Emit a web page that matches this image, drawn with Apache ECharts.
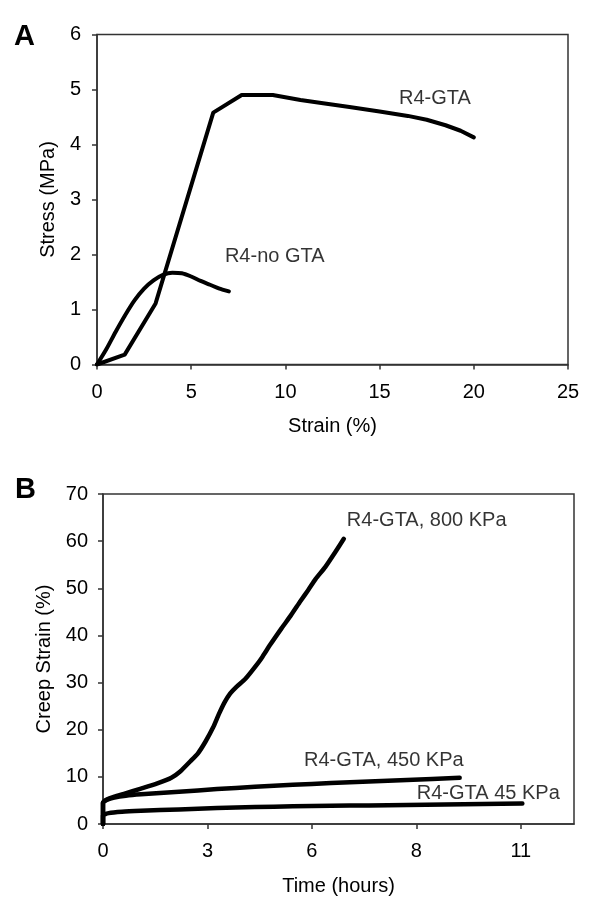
<!DOCTYPE html>
<html>
<head>
<meta charset="utf-8">
<script src="https://cdn.jsdelivr.net/npm/echarts@6/dist/echarts.min.js"></script>
<style>
html,body{margin:0;padding:0;background:#fff;}
#chart{width:600px;height:919px;}
</style>
</head>
<body>
<div id="chart"></div>
<script>
// ---- Panel A data: Stress (MPa) vs Strain (%) ----
var strainGTA = [0, 1.47, 3.11, 6.17, 7.68, 9.33, 10.8, 12.0, 13.4, 15.0, 16.5, 17.5, 18.5, 19.3, 20.0];
var stressGTA = [0, 0.18, 1.11, 4.58, 4.90, 4.90, 4.81, 4.75, 4.68, 4.60, 4.52, 4.45, 4.35, 4.25, 4.13];
var strainNoGTA = [0, 0.5, 1.0, 1.5, 2.0, 2.5, 3.0, 3.5, 4.0, 4.5, 5.0, 5.5, 6.0, 6.5, 7.0];
var stressNoGTA = [0, 0.28, 0.60, 0.90, 1.17, 1.38, 1.53, 1.63, 1.67, 1.66, 1.60, 1.52, 1.45, 1.38, 1.33];
var labelsA = ['R4-GTA', 'R4-no GTA'];
var labelAnchorsA = [[16.03, 4.83], [6.79, 1.96]];

// ---- Panel B data: Creep strain (%) vs Time (hours) ----
var time800 = [0, 0, 0.1, 0.3, 0.55, 1.0, 1.43, 1.8, 2.04, 2.3, 2.5, 2.7, 2.9, 3.05, 3.2, 3.35, 3.5, 3.75, 4.05, 4.2, 4.4, 4.7, 4.95, 5.2, 5.4, 5.6, 5.85, 6.1, 6.34];
var strain800 = [0, 4.5, 5.2, 5.8, 6.4, 7.5, 8.6, 9.8, 11.2, 13.3, 15.0, 17.5, 20.5, 23.3, 25.8, 27.7, 29.0, 30.8, 33.8, 35.5, 38.0, 41.5, 44.3, 47.3, 49.6, 52.0, 54.5, 57.5, 60.5];
var time450 = [0, 0, 0.1, 0.3, 0.6, 1, 2, 3, 4, 5, 6, 7, 8, 9.39];
var strain450 = [0, 4.5, 5.1, 5.6, 6.0, 6.3, 6.85, 7.4, 7.9, 8.3, 8.7, 9.0, 9.35, 9.8];
var time45 = [0, 0, 0.15, 0.5, 1, 2, 3, 4, 5, 6, 7, 8, 9, 10, 11.04];
var strain45 = [0, 1.8, 2.3, 2.6, 2.8, 3.1, 3.4, 3.6, 3.75, 3.85, 3.95, 4.05, 4.15, 4.25, 4.35];
var labelsB = ['R4-GTA, 800 KPa', 'R4-GTA, 450 KPa', 'R4-GTA 45 KPa'];
var labelAnchorsB = [[6.42, 64.3], [5.29, 13.4], [8.26, 6.5]];
var tickValuesB = [0, 2.75, 5.5, 8.25, 11];
var tickLabelsB = ['0', '3', '6', '8', '11'];

function zip(xs, ys) { return xs.map(function (x, i) { return [x, ys[i]]; }); }

var FONT = "'Liberation Sans', Arial, Helvetica, sans-serif";
var AXIS_COLOR = '#333';
var TEXT_COLOR = '#000';

function axisCfg(extra) {
  var base = {
    type: 'value',
    nameLocation: 'middle',
    nameTextStyle: { fontFamily: FONT, fontSize: 20, color: TEXT_COLOR },
    axisLine: { show: true, onZero: false, lineStyle: { color: AXIS_COLOR, width: 1.5 } },
    axisTick: { show: true, inside: false, length: 5, lineStyle: { color: AXIS_COLOR, width: 1.5 } },
    axisLabel: { fontFamily: FONT, fontSize: 20, color: TEXT_COLOR, margin: 18 },
    splitLine: { show: false }
  };
  return Object.assign(base, extra);
}

var chart = echarts.init(document.getElementById('chart'), null, { renderer: 'canvas' });

var lineStyleA = { color: '#000', width: 4, cap: 'round', join: 'round' };
var lineStyleB = { color: '#000', width: 4.5, cap: 'round', join: 'round' };
var annLabel = { show: true, position: [0, 0], align: 'left', verticalAlign: 'middle', fontFamily: FONT, fontSize: 20, color: TEXT_COLOR,
  formatter: function (p) { return p.data[2]; } };

var option = {
  animation: false,
  backgroundColor: '#fff',
  grid: [
    { left: 97, top: 34.5, width: 471, height: 330, show: true, borderColor: AXIS_COLOR, borderWidth: 1.5, backgroundColor: 'transparent' },
    { left: 103, top: 494, width: 471, height: 330, show: true, borderColor: AXIS_COLOR, borderWidth: 1.5, backgroundColor: 'transparent' }
  ],
  xAxis: [
    axisCfg({ gridIndex: 0, min: 0, max: 25, interval: 5, name: 'Strain (%)', nameGap: 52 }),
    axisCfg({ gridIndex: 1, min: 0, max: 12.4, name: 'Time (hours)', nameGap: 52,
      axisTick: { show: true, inside: false, length: 5, customValues: tickValuesB, lineStyle: { color: AXIS_COLOR, width: 1.5 } },
      axisLabel: { fontFamily: FONT, fontSize: 20, color: TEXT_COLOR, margin: 17, customValues: tickValuesB,
        formatter: function (v) { var i = tickValuesB.indexOf(v); return i >= 0 ? tickLabelsB[i] : ''; } } })
  ],
  yAxis: [
    axisCfg({ gridIndex: 0, min: 0, max: 6, interval: 1, name: 'Stress (MPa)', nameGap: 37,
      axisLabel: { fontFamily: FONT, fontSize: 20, color: TEXT_COLOR, margin: 16 } }),
    axisCfg({ gridIndex: 1, min: 0, max: 70, interval: 10, name: 'Creep Strain (%)', nameGap: 46,
      axisLabel: { fontFamily: FONT, fontSize: 20, color: TEXT_COLOR, margin: 15 } })
  ],
  graphic: [
    { type: 'text', left: 14, top: 22, style: { text: 'A', fontFamily: FONT, fontSize: 29, fontWeight: 'bold', fill: '#000' } },
    { type: 'text', left: 15, top: 475, style: { text: 'B', fontFamily: FONT, fontSize: 29, fontWeight: 'bold', fill: '#000' } }
  ],
  series: [
    { type: 'line', xAxisIndex: 0, yAxisIndex: 0, data: zip(strainGTA, stressGTA), showSymbol: false, lineStyle: lineStyleA },
    { type: 'line', xAxisIndex: 0, yAxisIndex: 0, data: zip(strainNoGTA, stressNoGTA), smooth: 0.3, showSymbol: false, lineStyle: lineStyleA },
    { type: 'line', xAxisIndex: 1, yAxisIndex: 1, data: zip(time800, strain800), smooth: 0.2, showSymbol: false, lineStyle: lineStyleB },
    { type: 'line', xAxisIndex: 1, yAxisIndex: 1, data: zip(time450, strain450), smooth: 0.2, showSymbol: false, lineStyle: lineStyleB },
    { type: 'line', xAxisIndex: 1, yAxisIndex: 1, data: zip(time45, strain45), smooth: 0.2, showSymbol: false, lineStyle: lineStyleB },
    { type: 'scatter', xAxisIndex: 0, yAxisIndex: 0, symbolSize: 0, silent: true,
      data: labelAnchorsA.map(function (p, i) { return [p[0], p[1], labelsA[i]]; }), label: annLabel },
    { type: 'scatter', xAxisIndex: 1, yAxisIndex: 1, symbolSize: 0, silent: true,
      data: labelAnchorsB.map(function (p, i) { return [p[0], p[1], labelsB[i]]; }), label: annLabel }
  ]
};
chart.setOption(option);
</script>
</body>
</html>
